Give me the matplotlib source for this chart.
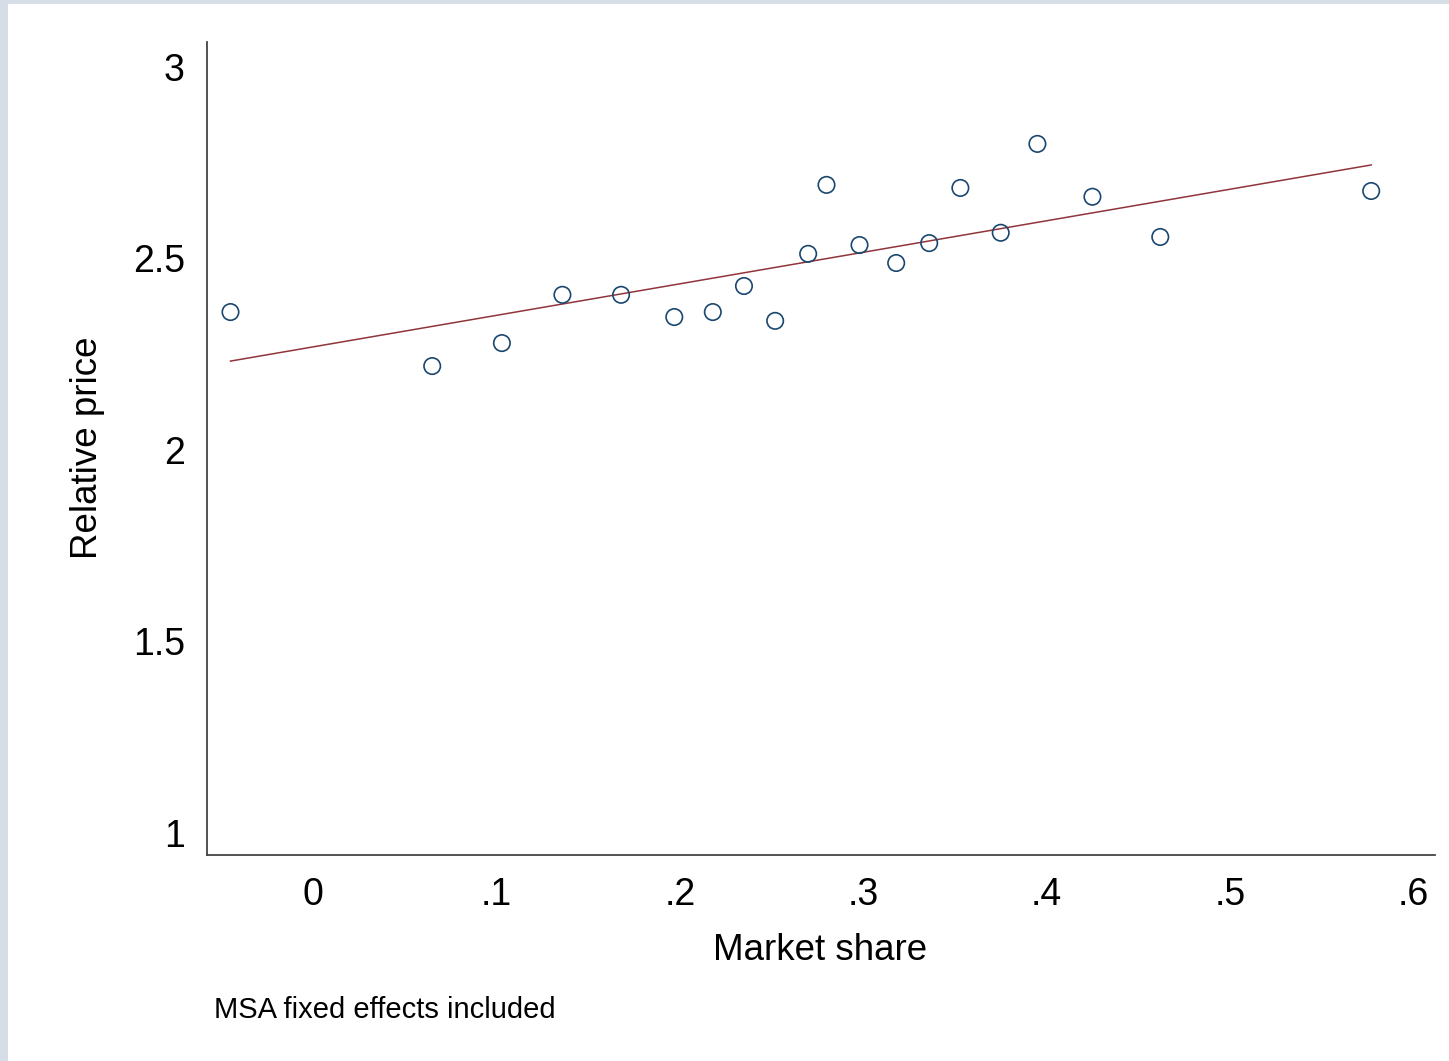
import numpy as np
import matplotlib.pyplot as plt
from matplotlib.patches import Rectangle

# Binned market share vs. relative price
share = [-0.045, 0.065, 0.103, 0.136, 0.168, 0.197, 0.218, 0.235, 0.252, 0.270,
         0.280, 0.298, 0.318, 0.336, 0.353, 0.375, 0.395, 0.425, 0.462, 0.577]
price = [2.360, 2.219, 2.279, 2.405, 2.405, 2.347, 2.360, 2.428, 2.337, 2.512,
         2.692, 2.535, 2.488, 2.540, 2.684, 2.567, 2.799, 2.661, 2.556, 2.676]

# Linear fit (estimated with MSA fixed effects)
fit_x = [-0.045, 0.577]
fit_y = [2.232, 2.744]

xticks = [0, 0.1, 0.2, 0.3, 0.4, 0.5, 0.6]
xticklabels = ['0', '.1', '.2', '.3', '.4', '.5', '.6']
yticks = [1, 1.5, 2, 2.5, 3]
yticklabels = ['1', '1.5', '2', '2.5', '3']

plt.rcParams['font.family'] = ['Liberation Sans', 'DejaVu Sans']

fig = plt.figure(figsize=(14.49, 10.61), dpi=100)
fig.patch.set_facecolor('white')

# light frame along the top and left edges
fig.patches.append(Rectangle((0, 0), 8/1449, 1, transform=fig.transFigure,
                             facecolor='#d6dde7', edgecolor='none', zorder=-1))
fig.patches.append(Rectangle((0, 1 - 4/1061), 1, 4/1061, transform=fig.transFigure,
                             facecolor='#d6dde7', edgecolor='none', zorder=-1))

ax = fig.add_axes([207/1449, 1 - 855/1061, (1435 - 207)/1449, (855 - 42)/1061])

ax.scatter(share, price, s=140, facecolors='none', edgecolors='#1a476f', linewidths=1.2, zorder=3)
ax.plot(fit_x, fit_y, color='#90353b', lw=1.1, zorder=2)

ax.set_xlim(-0.0578, 0.6118)
ax.set_ylim(0.9426, 3.065)

ax.set_xticks(xticks)
ax.set_xticklabels(xticklabels)
ax.set_yticks(yticks)
ax.set_yticklabels(yticklabels)
ax.tick_params(axis='both', length=0, labelsize=27)
ax.tick_params(axis='x', pad=16)
ax.tick_params(axis='y', pad=16)

for side in ['top', 'right']:
    ax.spines[side].set_visible(False)
for side in ['left', 'bottom']:
    ax.spines[side].set_color('#444444')
    ax.spines[side].set_linewidth(1.3)

ax.set_xlabel('Market share', fontsize=26.5, va='center')
ax.xaxis.set_label_coords(0.499, -0.117)
ax.set_ylabel('Relative price', fontsize=26.5, va='center')
ax.yaxis.set_label_coords(-0.097, 0.5006)

fig.text(214/1449, 1 - 1010/1061, 'MSA fixed effects included', fontsize=21,
         ha='left', va='center')

fig.savefig('out.png', dpi=100)
